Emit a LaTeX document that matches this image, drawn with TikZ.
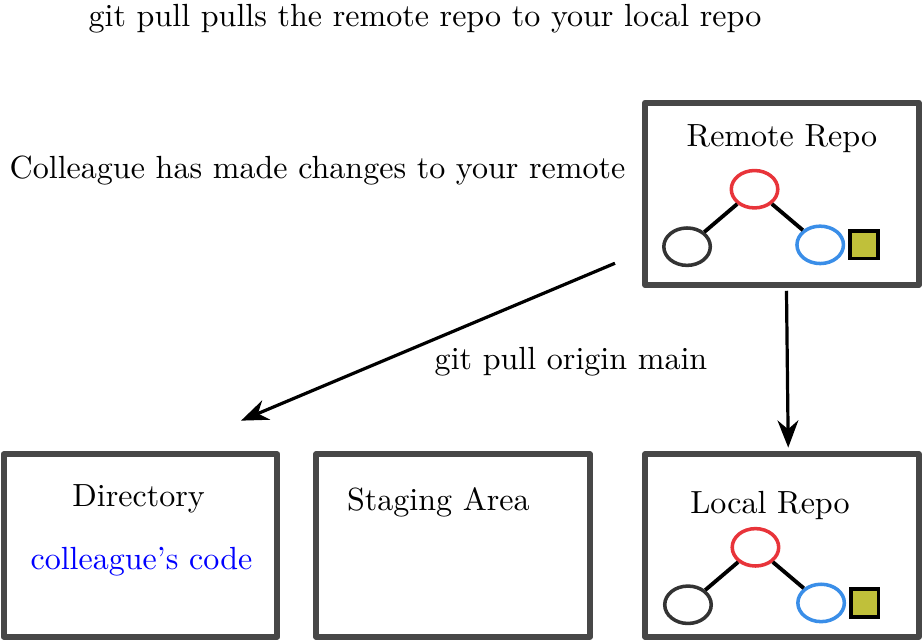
\documentclass[tikz,border=0pt]{standalone}
\usetikzlibrary{arrows.meta,shapes.geometric,positioning}
\definecolor{boxgray}{HTML}{474747}
\definecolor{commitred}{HTML}{E8343A}
\definecolor{commitblue}{HTML}{3A8EE8}
\definecolor{commitdark}{HTML}{333333}
\definecolor{fileolive}{HTML}{C0C03A}

\begin{document}
\begin{tikzpicture}[
    area/.style={rectangle, draw=boxgray, line width=1.9pt, line join=round, minimum width=3cm, minimum height=2cm},
    commit/.style={ellipse, draw, line width=1.1pt, minimum width=0.51cm, minimum height=0.41cm, inner sep=0pt},
    file/.style={rectangle, draw=black, line width=1.2pt, fill=fileolive, minimum size=0.3cm, inner sep=0pt},
    link/.style={line width=1.2pt},
    arrow/.style={-{Stealth[length=8.5pt, width=6.5pt]}, line width=1pt}
]
\useasboundingbox (0,0) rectangle (10.111,-7.051);

% Boxes
\node[area] (dir) at (1.541,-5.982) {};
\node[area, right=0.36cm of dir] (stage) {};
\node[area, right=0.54cm of stage] (local) {};
\node[area, above=1.79cm of local] (remote) {};

% Box labels
\node (remtxt) at ([yshift=0.6cm]remote.center) {Remote Repo};
\node (loctxt) at ([shift={(-0.13,0.44)}]local.center) {Local Repo};
\node (dirtxt) at ([shift={(-0.02,0.51)}]dir.center) {Directory};
\node[text=blue] (code) at ([shift={(0.01,-0.18)}]dir.center) {colleague's code};
\node (stagetxt) at ([shift={(-0.16,0.47)}]stage.center) {Staging Area};

% Remote commits
\node[commit, draw=commitred] (rr) at ([shift={(-0.30,0.05)}]remote.center) {};
\node[commit, draw=commitdark] (rk) at ([shift={(-0.74,-0.63)}]rr) {};
\node[commit, draw=commitblue] (rb) at ([shift={(0.72,-0.61)}]rr) {};
\node[file, right of=rb, node distance=0.48cm] (rf) {};
\draw[link] (rr) -- (rk);
\draw[link] (rr) -- (rb);

% Local commits
\node[commit, draw=commitred] (lr) at ([shift={(-0.29,-0.02)}]local.center) {};
\node[commit, draw=commitdark] (lk) at ([shift={(-0.74,-0.63)}]lr) {};
\node[commit, draw=commitblue] (lb) at ([shift={(0.72,-0.61)}]lr) {};
\node[file, right of=lb, node distance=0.48cm] (lf) {};
\draw[link] (lr) -- (lk);
\draw[link] (lr) -- (lb);

% Texts
\node (title) at (4.661,-0.208) {git pull pulls the remote repo to your local repo};
\node (colleague) at (3.482,-1.875) {Colleague has made changes to your remote};
\node (cmd) at (6.262,-3.970) {git pull origin main};

% Arrows
\coordinate (from) at (6.744,-2.887);
\coordinate (to) at (2.643,-4.613);
\draw[arrow] (from) -- (to);
\draw[arrow, shorten <=0.03cm, shorten >=0.04cm] ([xshift=0.05cm]remote.south) -- ([xshift=0.07cm]local.north);
\end{tikzpicture}
\end{document}
